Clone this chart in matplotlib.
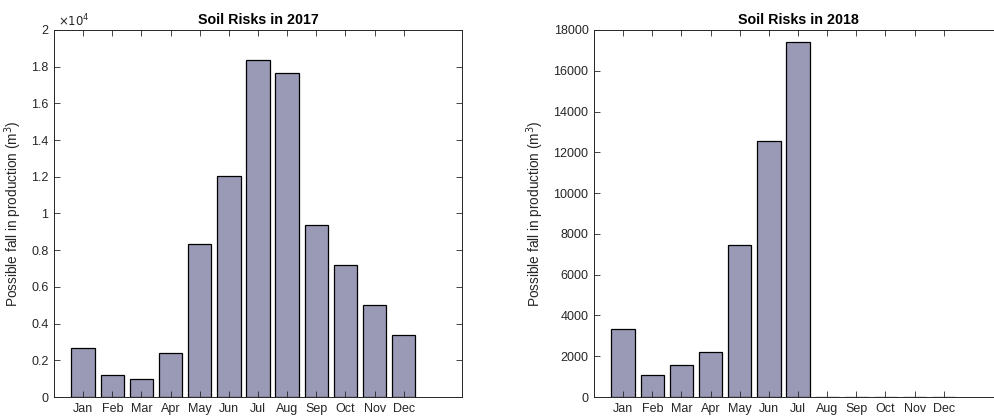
import matplotlib.pyplot as plt
import numpy as np
from matplotlib.ticker import FuncFormatter

plt.rcParams['font.family'] = ['Liberation Sans', 'DejaVu Sans']

months = ["Jan", "Feb", "Mar", "Apr", "May", "Jun",
          "Jul", "Aug", "Sep", "Oct", "Nov", "Dec"]
risk_2017 = [2670, 1180, 1000, 2380, 8320, 12060,
             18380, 17660, 9390, 7190, 5000, 3360]
risk_2018 = [3320, 1060, 1555, 2220, 7455, 12570,
             17430, 0, 0, 0, 0, 0]

BAR_COLOR = "#9a9ab6"
AX_COLOR = "#262626"


def style_axes(ax):
    ax.set_xlim(0, 14)
    ax.set_xticks(np.arange(1, 13))
    ax.set_xticklabels(months)
    ax.tick_params(direction="in", length=4, width=0.6, colors=AX_COLOR,
                   labelsize=9, top=True, right=True, pad=4)
    for s in ax.spines.values():
        s.set_color(AX_COLOR)
        s.set_linewidth(0.7)
    ax.set_ylabel("Possible fall in production (m$^3$)", fontsize=9.8,
                  color=AX_COLOR, labelpad=5)


fig = plt.figure(figsize=(9.95, 4.18), dpi=100)
ax1 = fig.add_axes([54 / 995, 21 / 418, 408 / 995, 367 / 418])
ax2 = fig.add_axes([594 / 995, 21 / 418, 408 / 995, 367 / 418])

x = np.arange(1, 13)

ax1.bar(x, risk_2017, width=0.8, color=BAR_COLOR, edgecolor="black", linewidth=0.9)
style_axes(ax1)
ax1.set_ylim(0, 20000)
ax1.set_yticks(np.arange(0, 20001, 2000))
ax1.yaxis.set_major_formatter(FuncFormatter(lambda v, p: "%g" % (v / 1e4)))
ax1.set_title("Soil Risks in 2017", fontsize=10.3, fontweight="bold", pad=4)
ax1.text(0.01, 1.003, r"$\times10^4$", transform=ax1.transAxes, fontsize=8.5,
         color=AX_COLOR, ha="left", va="bottom")

ax2.bar(x, risk_2018, width=0.8, color=BAR_COLOR, edgecolor="black", linewidth=0.9)
style_axes(ax2)
ax2.set_ylim(0, 18000)
ax2.set_yticks(np.arange(0, 18001, 2000))
ax2.set_title("Soil Risks in 2018", fontsize=10.3, fontweight="bold", pad=4)

fig.savefig("out.png", dpi=100)
